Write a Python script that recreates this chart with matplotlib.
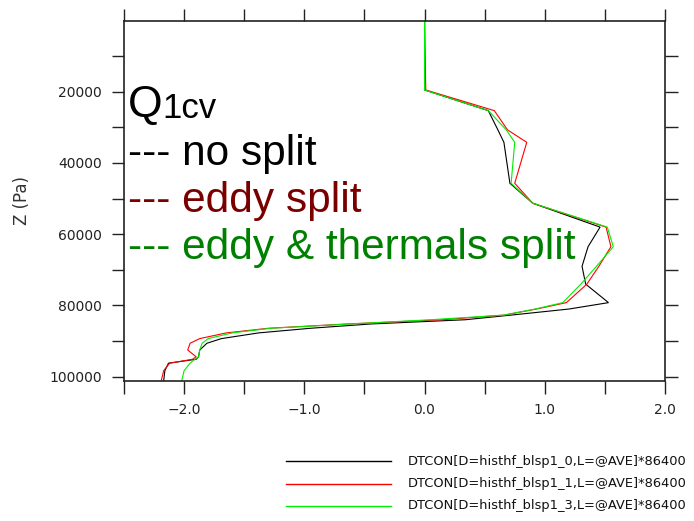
import matplotlib
matplotlib.use("Agg")
import matplotlib.pyplot as plt
from matplotlib.ticker import FixedLocator, MultipleLocator, FuncFormatter
from matplotlib.lines import Line2D

# ---------------- data ----------------
pressure = [0, 19500, 25300, 30700, 34200, 45700, 51300, 58000, 63500, 69000,
            74000, 79200, 81000, 82700, 84000, 85200, 86400, 87700, 89300, 90600,
            92500, 94400, 95100, 96200, 98300, 101100]

no_split = [0.0, 0.0, 0.53, 0.61, 0.66, 0.71, 0.90, 1.46, 1.36, 1.31,
            1.34, 1.53, 1.20, 0.72, 0.34, -0.45, -0.95, -1.38, -1.69, -1.81,
            -1.87, -1.88, -1.90, -2.13, -2.16, -2.17]

eddy_split = [0.0, 0.01, 0.58, 0.69, 0.85, 0.75, 0.90, 1.51, 1.55, 1.45,
              1.35, 1.18, 0.93, 0.66, 0.15, -0.65, -1.30, -1.65, -1.87, -1.95,
              -1.97, -1.90, -1.93, -2.12, -2.17, -2.19]

eddy_thermals_split = [0.0, 0.0, 0.53, 0.68, 0.75, 0.72, 0.90, 1.52, 1.57, 1.43,
                       1.30, 1.15, 0.92, 0.66, 0.05, -0.62, -1.28, -1.60, -1.80, -1.85,
                       -1.87, -1.88, -1.91, -1.95, -2.00, -2.02]

series = [no_split, eddy_split, eddy_thermals_split]
line_colors = ["#000000", "#ff0000", "#00ee00"]
legend_labels = ["DTCON[D=histhf_blsp1_0,L=@AVE]*86400",
                 "DTCON[D=histhf_blsp1_1,L=@AVE]*86400",
                 "DTCON[D=histhf_blsp1_3,L=@AVE]*86400"]

overlay_lines = ["--- no split", "--- eddy split", "--- eddy & thermals split"]
overlay_colors = ["#000000", "#7a0000", "#008000"]

x_major = [-2.0, -1.0, 0.0, 1.0, 2.0]
y_major = [20000, 40000, 60000, 80000, 100000]
y_minor = [10000, 30000, 50000, 70000, 90000]

# ---------------- figure ----------------
W, H = 694, 521
fig = plt.figure(figsize=(W / 100, H / 100), dpi=100)
left, right, top, bottom = 124, 665, 20.5, 381
ax = fig.add_axes([left / W, 1 - bottom / H, (right - left) / W, (bottom - top) / H])

for vals, col in zip(series, line_colors):
    ax.plot(vals, pressure, color=col, lw=0.8, solid_joinstyle="miter")

ax.set_xlim(-2.5, 2.0)
ax.set_ylim(101200, 0)

ax.xaxis.set_major_locator(FixedLocator(x_major))
ax.xaxis.set_minor_locator(MultipleLocator(0.5))
ax.xaxis.set_major_formatter(FuncFormatter(lambda v, p: f"{v:.1f}".replace("-", "\u2212")))
ax.yaxis.set_major_locator(FixedLocator(y_major))
ax.yaxis.set_minor_locator(FixedLocator(y_minor))
ax.yaxis.set_major_formatter(FuncFormatter(lambda v, p: f"{int(v)}"))

ax.tick_params(which="both", direction="out", length=9, width=1.0,
               top=True, right=True, labeltop=False, labelright=False,
               color="#222222")
ax.tick_params(which="major", labelsize=10, pad=7, labelcolor="#222222")
for lab in ax.get_xticklabels() + ax.get_yticklabels():
    lab.set_family("DejaVu Sans")
for sp in ax.spines.values():
    sp.set_linewidth(1.2)
    sp.set_color("#222222")

ax.set_ylabel("Z (Pa)", fontsize=12, color="#333333", family="DejaVu Sans")
ax.yaxis.set_label_coords(-0.172, 0.5)

# ---------------- overlay annotation text ----------------
def ay(baseline_px):
    return 1 - (baseline_px - top) / (bottom - top)

def axx(px):
    return (px - left) / (right - left)

ax.text(axx(128), ay(117), "Q", transform=ax.transAxes, fontsize=32,
        family="Liberation Sans", va="baseline", ha="left", color="#000000")
ax.text(axx(162), ay(118), "1cv", transform=ax.transAxes, fontsize=25,
        family="Liberation Sans", va="baseline", ha="left", color="#000000")
for i, (txt, col) in enumerate(zip(overlay_lines, overlay_colors)):
    ax.text(axx(128), ay(165 + 47 * i), txt, transform=ax.transAxes,
            fontsize=30.5, family="Liberation Sans", va="baseline", ha="left",
            color=col)

# ---------------- legend below the plot ----------------
leg_y = [461, 483.5, 506]
for yy, col, lab in zip(leg_y, line_colors, legend_labels):
    fig.add_artist(Line2D([286 / W, 391 / W], [1 - yy / H, 1 - yy / H],
                          transform=fig.transFigure, color=col, lw=1.0))
    fig.text(408 / W, 1 - yy / H, lab, fontsize=9.4, family="DejaVu Sans",
             va="center", ha="left", color="#111111")

fig.savefig("out.png", dpi=100)
